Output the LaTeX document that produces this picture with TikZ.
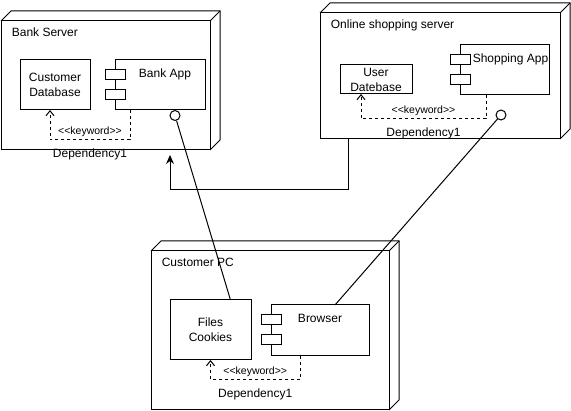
\documentclass[tikz,border=0pt]{standalone}
\usepackage{fontspec}
\setmainfont{Liberation Sans}
\newfontfamily\kwfont{Liberation Sans}
\usepackage{tikz}
\usetikzlibrary{arrows.meta,positioning}

\tikzset{
  device/.style={draw, inner sep=0pt, outer sep=0pt, anchor=north west},
  artifact/.style={draw, inner sep=0pt, outer sep=0pt, anchor=north west, align=center},
  component/.style={draw, inner sep=0pt, outer sep=0pt, anchor=north west},
  comptab/.style={draw, fill=white, inner sep=0pt, outer sep=0pt, minimum width=20pt, minimum height=10pt, anchor=north},
  port/.style={draw, circle, fill=white, inner sep=0pt, minimum size=10pt},
  depend/.style={dash pattern=on 3pt off 3pt, -{Straight Barb[length=5pt,width=8pt]}},
  flow/.style={-{Stealth[length=9pt,width=8pt]}},
  kwlabel/.style={font=\kwfont\fontsize{10.5}{12}\selectfont, above, inner sep=3pt},
  deplabel/.style={below=4.5pt, inner sep=3.33pt}
}

\begin{document}
\begin{tikzpicture}[x=1pt, y=-1pt, line width=1pt, font=\fontsize{12}{15}\selectfont]
            \useasboundingbox (0,0) rectangle (571,411);

            % Bank Server
            \node[device, minimum width=209pt, minimum height=129pt] (bank) at (1,21) {};
            \draw (bank.north west) -- ++(10,-10) -| ([shift={(10,-10)}]bank.south east) -- (bank.south east);
            \draw (bank.north east) -- ++(10,-10);
            \node[anchor=base west] (banktitle) at ([shift={(7,16)}]bank.north west) {Bank Server};

            \node[artifact, minimum width=70pt, minimum height=50pt] (custdb) at (20,60) {Customer\\Database};

            \node[component, minimum width=90pt, minimum height=50pt] (bankapp) at (115,60) {};
            \node[comptab] (banktab1) at ([shift={(0,10)}]bankapp.north west) {};
            \node[comptab] (banktab2) at ([shift={(0,30)}]bankapp.north west) {};
            \node[anchor=base] (bankapptext) at ([shift={(5,18)}]bankapp.north) {Bank App};
            \node[port] (bankport) at ([shift={(15,5.5)}]bankapp.south) {};

            \draw[depend] ([shift={(-30,0)}]bankapp.south) -- ++(0,30)
                -| node[kwlabel, pos=0.25] (bankkw) {<<keyword>>}
                   node[deplabel, pos=0.25] (bankdep) {Dependency1}
                ([shift={(-5,0)}]custdb.south);

            % Online shopping server
            \node[device, minimum width=240pt, minimum height=126pt] (online) at (320,13) {};
            \draw (online.north west) -- ++(10,-10) -| ([shift={(10,-10)}]online.south east) -- (online.south east);
            \draw (online.north east) -- ++(10,-10);
            \node[anchor=base west] (onlinetitle) at ([shift={(7,16)}]online.north west) {Online shopping server};

            \node[artifact, minimum width=72pt, minimum height=29pt] (userdb) at (340,65) {User\\Datebase};

            \node[component, minimum width=89pt, minimum height=50pt] (shopapp) at (460,45) {};
            \node[comptab] (shoptab1) at ([shift={(0,10)}]shopapp.north west) {};
            \node[comptab] (shoptab2) at ([shift={(0,30)}]shopapp.north west) {};
            \node[anchor=base] (shopapptext) at ([shift={(6,18)}]shopapp.north) {Shopping App};
            \node[port] (shopport) at ([shift={(-3.5,20)}]shopapp.south) {};

            \draw[depend] ([shift={(-18.5,0)}]shopapp.south) -- ++(0,24)
                -| node[kwlabel, pos=0.25] (shopkw) {<<keyword>>}
                   node[deplabel, pos=0.25] (shopdep) {Dependency1}
                ([shift={(-15,0)}]userdb.south);

            % Customer PC
            \node[device, minimum width=238pt, minimum height=159pt] (pc) at (151,251) {};
            \draw (pc.north west) -- ++(10,-10) -| ([shift={(10,-10)}]pc.south east) -- (pc.south east);
            \draw (pc.north east) -- ++(10,-10);
            \node[anchor=base west] (pctitle) at ([shift={(7,16)}]pc.north west) {Customer PC};

            \node[artifact, minimum width=81pt, minimum height=60pt] (files) at (170,300) {Files\\Cookies};

            \node[component, minimum width=98pt, minimum height=51pt] (browser) at (271,305) {};
            \node[comptab] (browsertab1) at ([shift={(0,10)}]browser.north west) {};
            \node[comptab] (browsertab2) at ([shift={(0,30)}]browser.north west) {};
            \node[anchor=base] (browsertext) at ([shift={(0,18)}]browser.north) {Browser};

            \draw[depend] ([shift={(-20,0)}]browser.south) -- ++(0,24)
                -| node[kwlabel, pos=0.25] (pckw) {<<keyword>>}
                   node[deplabel, pos=0.25] (pcdep) {Dependency1}
                (files.south);

            % Links between the nodes
            \draw (bankport) -- ([shift={(20,0)}]files.north);
            \draw (shopport) -- ([shift={(15,0)}]browser.north);
            \draw[flow] ([shift={(-92,0)}]online.south) -- ++(0,51) -| ([shift={(64.5,5)}]bank.south);
        \end{tikzpicture}
\end{document}
